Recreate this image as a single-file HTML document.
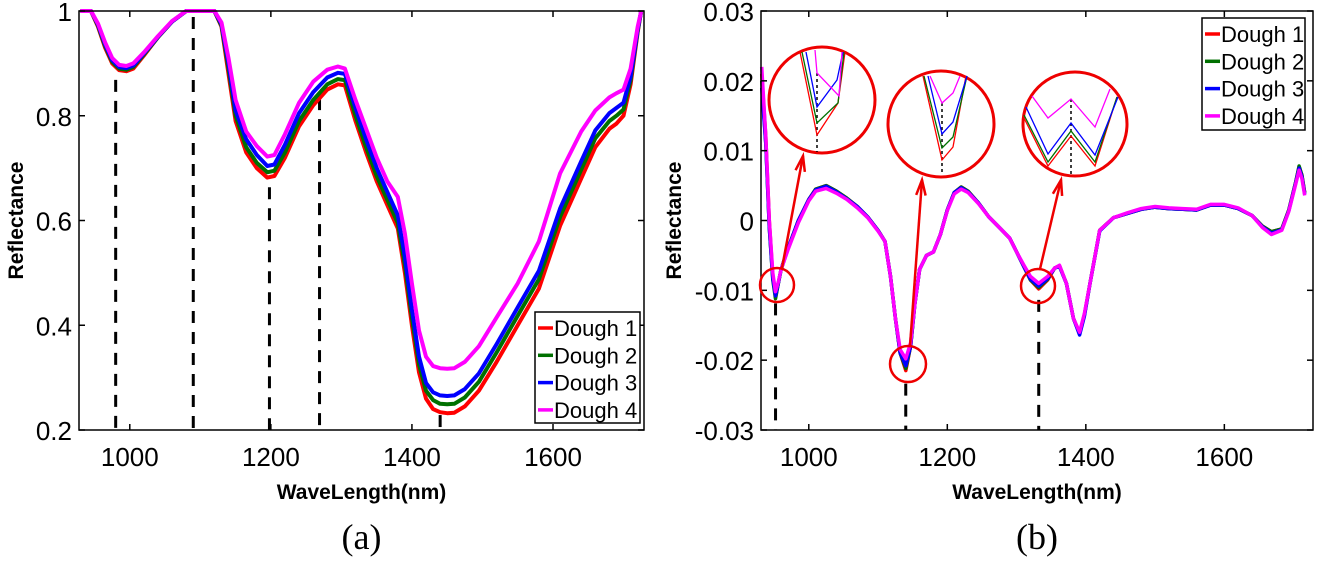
<!DOCTYPE html>
<html><head><meta charset="utf-8"><style>
html,body{margin:0;padding:0;background:#fff;}
svg{display:block;font-family:"Liberation Sans",Arial,sans-serif;}
</style></head><body>
<svg id="fig" width="1320" height="566" viewBox="0 0 1320 566" xmlns="http://www.w3.org/2000/svg">
<g id="chartA"></g>
<g id="chartB"></g>
<g id="insets"></g>
</svg>
<script>
// ---- Chart (a) data ----
const wlA = [930,945,955,965,975,985,995,1005,1020,1040,1060,1080,1095,1110,1120,1130,1140,1150,1165,1180,1195,1205,1220,1240,1260,1280,1295,1305,1320,1335,1350,1365,1380,1390,1400,1410,1420,1430,1440,1450,1460,1475,1495,1520,1550,1580,1610,1640,1660,1680,1690,1700,1710,1720,1725];
const dough1A = [1,1,0.97,0.93,0.9,0.887,0.885,0.89,0.915,0.95,0.98,1,1,1,1,0.97,0.88,0.79,0.73,0.70,0.682,0.685,0.72,0.78,0.82,0.85,0.86,0.858,0.79,0.73,0.675,0.63,0.585,0.5,0.4,0.31,0.26,0.24,0.234,0.232,0.233,0.245,0.275,0.33,0.40,0.47,0.59,0.68,0.74,0.775,0.785,0.8,0.86,0.96,1];
const dough2A = [1,1,0.972,0.933,0.903,0.89,0.888,0.893,0.917,0.95,0.98,1,1,1,1,0.972,0.89,0.8,0.74,0.71,0.692,0.695,0.73,0.79,0.83,0.86,0.87,0.868,0.8,0.74,0.685,0.64,0.595,0.515,0.415,0.325,0.275,0.257,0.25,0.249,0.25,0.262,0.292,0.348,0.418,0.488,0.607,0.697,0.757,0.79,0.8,0.812,0.868,0.962,1];
const dough3A = [1,1,0.974,0.936,0.906,0.893,0.891,0.896,0.919,0.951,0.98,1,1,1,1,0.975,0.9,0.81,0.755,0.725,0.704,0.707,0.745,0.805,0.845,0.873,0.882,0.88,0.815,0.755,0.7,0.655,0.61,0.53,0.43,0.34,0.29,0.272,0.266,0.265,0.266,0.278,0.308,0.364,0.434,0.504,0.623,0.713,0.772,0.805,0.815,0.825,0.875,0.965,1];
const dough4A = [1,1,0.976,0.94,0.91,0.897,0.895,0.9,0.921,0.952,0.981,1,1,1,1,0.978,0.91,0.83,0.77,0.742,0.722,0.725,0.765,0.825,0.865,0.888,0.894,0.89,0.83,0.775,0.72,0.675,0.645,0.575,0.48,0.39,0.34,0.322,0.318,0.317,0.318,0.33,0.36,0.415,0.48,0.56,0.69,0.77,0.81,0.835,0.843,0.85,0.89,0.97,1];
const xTicksA = [1000,1200,1400,1600];
const yTicksA = [0.2,0.4,0.6,0.8,1];
const yTickLabelsA = ["0.2","0.4","0.6","0.8","1"];
const dashA = [980,1090,1198,1269,1440];
const dashTopA = [0.88,1,0.675,0.845,0.24];

// ---- Chart (b) data ----
const wlB = [932,938,943,948,952,956,960,970,985,1000,1010,1025,1040,1055,1070,1085,1100,1110,1118,1125,1132,1140,1147,1153,1160,1170,1180,1190,1200,1210,1220,1230,1245,1260,1275,1290,1300,1310,1320,1332,1345,1355,1362,1372,1382,1391,1398,1406,1420,1440,1460,1480,1500,1520,1540,1560,1580,1600,1620,1640,1655,1668,1683,1693,1703,1708,1712,1716];
const dough1B = [0.021,0.012,0.0,-0.008,-0.011,-0.009,-0.007,-0.004,0.0,0.003,0.0045,0.005,0.0042,0.0032,0.002,0.0005,-0.0014,-0.003,-0.008,-0.014,-0.019,-0.0215,-0.018,-0.012,-0.007,-0.005,-0.0045,-0.002,0.0015,0.004,0.0048,0.0042,0.0025,0.0005,-0.001,-0.0025,-0.0045,-0.0065,-0.0085,-0.0098,-0.0085,-0.0068,-0.0065,-0.009,-0.014,-0.0162,-0.0135,-0.009,-0.0014,0.0004,0.001,0.0016,0.0019,0.0017,0.0016,0.0015,0.0022,0.0022,0.0017,0.0007,-0.0008,-0.0016,-0.0012,0.0015,0.0055,0.0077,0.0065,0.004];
const dough2B = [0.02,0.011,-0.001,-0.0085,-0.0112,-0.009,-0.007,-0.004,0.0,0.003,0.0045,0.005,0.0042,0.0032,0.002,0.0005,-0.0014,-0.003,-0.008,-0.014,-0.019,-0.0212,-0.018,-0.012,-0.007,-0.005,-0.0045,-0.002,0.0015,0.004,0.0048,0.0042,0.0025,0.0005,-0.001,-0.0025,-0.0045,-0.0065,-0.0085,-0.0096,-0.0084,-0.0068,-0.0065,-0.009,-0.014,-0.0162,-0.0135,-0.009,-0.0014,0.0004,0.001,0.0016,0.0019,0.0017,0.0016,0.0015,0.0022,0.0022,0.0017,0.0007,-0.0008,-0.0016,-0.0012,0.0015,0.0055,0.0078,0.0065,0.004];
const dough3B = [0.019,0.011,-0.001,-0.0083,-0.0108,-0.009,-0.007,-0.004,0.0,0.003,0.0044,0.0049,0.0041,0.0031,0.002,0.0005,-0.0014,-0.003,-0.008,-0.014,-0.019,-0.0208,-0.018,-0.012,-0.007,-0.005,-0.0045,-0.002,0.0015,0.004,0.0047,0.0041,0.0025,0.0005,-0.001,-0.0025,-0.0045,-0.0065,-0.0084,-0.0094,-0.0083,-0.0068,-0.0066,-0.009,-0.014,-0.0164,-0.0137,-0.009,-0.0015,0.0004,0.001,0.0016,0.0019,0.0017,0.0016,0.0015,0.0022,0.0022,0.0017,0.0007,-0.0009,-0.0018,-0.0013,0.0014,0.0054,0.0075,0.0063,0.0038];
const dough4B = [0.022,0.012,0.0,-0.0075,-0.0102,-0.0088,-0.007,-0.0042,-0.0003,0.0028,0.0042,0.0046,0.0039,0.003,0.0018,0.0004,-0.0015,-0.003,-0.008,-0.014,-0.0185,-0.0198,-0.0175,-0.012,-0.007,-0.005,-0.0045,-0.002,0.0014,0.0038,0.0045,0.004,0.0024,0.0005,-0.001,-0.0025,-0.0045,-0.0063,-0.008,-0.009,-0.008,-0.0068,-0.0064,-0.009,-0.014,-0.016,-0.0133,-0.009,-0.0014,0.0004,0.0011,0.0017,0.002,0.0018,0.0017,0.0016,0.0023,0.0023,0.0018,0.0007,-0.001,-0.002,-0.0014,0.0013,0.0052,0.0072,0.006,0.0036];
const xTicksB = [1000,1200,1400,1600];
const yTicksB = [-0.03,-0.02,-0.01,0,0.01,0.02,0.03];
const yTickLabelsB = ["-0.03","-0.02","-0.01","0","0.01","0.02","0.03"];
const dashB = [952,1140,1332];
const dashTopB = [-0.011,-0.0225,-0.0105];

const seriesNames = ["Dough 1","Dough 2","Dough 3","Dough 4"];
const colors = ["#ff0000","#007000","#0000ff","#ff00ff"];
const NS = "http://www.w3.org/2000/svg";

function mk(parent, tag, attrs, text){
  const e = document.createElementNS(NS, tag);
  for (const k in attrs) e.setAttribute(k, attrs[k]);
  if (text !== undefined) e.textContent = text;
  parent.appendChild(e);
  return e;
}

function drawChart(g, cfg){
  const {L,R,T,B,x0,x1,y0,y1} = cfg;
  const sx = v => L + (v - x0) / (x1 - x0) * (R - L);
  const sy = v => B - (v - y0) / (y1 - y0) * (B - T);
  // dashed markers
  cfg.dash.forEach((d,i)=>{
    const ln = mk(g,'line',{x1:sx(d),x2:sx(d),y1:sy(cfg.dashTop[i])+6,y2:B,stroke:'#000','stroke-width':3,'stroke-dasharray':'12,9'});
    
    
  });
  // series
  cfg.series.forEach((s,i)=>{
    const pts = cfg.wl.map((w,j)=>sx(w).toFixed(1)+','+sy(s[j]).toFixed(1)).join(' ');
    const pl = mk(g,'polyline',{points:pts,fill:'none',stroke:colors[i],'stroke-width':cfg.sw,'stroke-linejoin':'round'});
    
    
  });
  // frame
  const fr = mk(g,'rect',{x:L,y:T,width:R-L,height:B-T,fill:'none',stroke:'#000','stroke-width':1.5});
  
  
  // x ticks
  cfg.xTicks.forEach(t=>{
    const x = sx(t);
    mk(g,'line',{x1:x,x2:x,y1:B,y2:B-6,stroke:'#000','stroke-width':1.5});
    mk(g,'line',{x1:x,x2:x,y1:T,y2:T+6,stroke:'#000','stroke-width':1.5});
    const tl = mk(g,'text',{x:x,y:B+36,'text-anchor':'middle','font-size':26},String(t));
    
    
  });
  cfg.yTicks.forEach((t,i)=>{
    const y = sy(t);
    mk(g,'line',{x1:L,x2:L+6,y1:y,y2:y,stroke:'#000','stroke-width':1.5});
    mk(g,'line',{x1:R,x2:R-6,y1:y,y2:y,stroke:'#000','stroke-width':1.5});
    const tl = mk(g,'text',{x:L-7,y:y+10,'text-anchor':'end','font-size':26},cfg.yLabels[i]);
    
    
  });
  const xt = mk(g,'text',{x:(L+R)/2,y:499,'text-anchor':'middle','font-size':21,'font-weight':'bold'},'WaveLength(nm)');
  
  
  const yt = mk(g,'text',{x:0,y:0,'text-anchor':'middle','font-size':21,'font-weight':'bold',transform:`translate(${cfg.ytx},${(T+B)/2}) rotate(-90)`},'Reflectance');
  
  
  const cap = mk(g,'text',{x:(L+R)/2,y:549,'text-anchor':'middle','font-size':36,'font-family':'"Liberation Serif",serif'},cfg.caption);
  
  
  // legend
  const lg = mk(g,'g',{});
  
  
  mk(lg,'rect',{x:cfg.lx,y:cfg.ly,width:cfg.lw,height:cfg.lh,fill:'#fff',stroke:'#000','stroke-width':1.5});
  seriesNames.forEach((n,i)=>{
    const cy = cfg.ly + 16 + i*27.3;
    const e = mk(lg,'g',{});
    
    
    mk(e,'line',{x1:cfg.lx+3,x2:cfg.lx+18,y1:cy,y2:cy,stroke:colors[i],'stroke-width':3.5});
    mk(e,'text',{x:cfg.lx+19,y:cy+8,'font-size':22},n);
  });
}

drawChart(document.getElementById('chartA'),{
  L:79,R:644,T:11,B:430,x0:928,x1:1729,y0:0.2,y1:1,
  wl:wlA,series:[dough1A,dough2A,dough3A,dough4A],sw:4,
  xTicks:xTicksA,yTicks:yTicksA,yLabels:yTickLabelsA,
  dash:dashA,dashTop:dashTopA,ytx:23,caption:'(a)',
  lx:535,ly:312,lw:105,lh:111
});
drawChart(document.getElementById('chartB'),{
  L:761,R:1313,T:11,B:430,x0:931,x1:1728,y0:-0.03,y1:0.03,
  wl:wlB,series:[dough1B,dough2B,dough3B,dough4B],sw:3.5,
  xTicks:xTicksB,yTicks:yTicksB,yLabels:yTickLabelsB,
  dash:dashB,dashTop:dashTopB,ytx:681,caption:'(b)',
  lx:1202,ly:18,lw:103,lh:112
});

// ---- Insets (magnified views) ----
const ins = document.getElementById('insets');
const smallCircles = [[777,285,17],[908,364,18],[1038,286,17]];
const bigCircles = [[822,100,53],[941,124,53],[1075,124,52]];
const arrows = [[782,268,803,156],[910,346,922,180],[1040,269,1061,180]];
const insetLines = [
 [[[800,52],[817,135],[838,103],[845,52]],[[802,52],[817,123],[838,103],[844,52]],[[806,52],[817,107],[837,80],[843,52]],[[815,50],[817,73],[839,96],[842,52]]],
 [[[923,76],[942,160],[953,147],[966,76]],[[924,76],[942,148],[953,137],[967,76]],[[928,76],[942,134],[953,122],[967,76]],[[930,76],[942,103],[953,93],[960,76]]],
 [[[1024,118],[1048,166],[1071,136],[1095,166],[1117,97]],[[1024,115],[1048,162],[1071,131],[1095,162],[1117,97]],[[1026,107],[1048,154],[1071,123],[1095,155],[1118,97]],[[1032,96],[1048,118],[1071,99],[1095,127],[1110,89]]]
];
const insetDots = [[817,73,152],[942,103,175],[1071,99,175]];
smallCircles.forEach((c,i)=>{
  const sc = mk(ins,'circle',{cx:c[0],cy:c[1],r:c[2],fill:'none',stroke:'#e00','stroke-width':2.5});
  
  
  const a = arrows[i];
  const ar = mk(ins,'line',{x1:a[0],y1:a[1],x2:a[2],y2:a[3],stroke:'#e00','stroke-width':2.5});
  
  
  const ang = Math.atan2(a[3]-a[1],a[2]-a[0]);
  const hx = a[2], hy = a[3];
  const p1 = [hx-16*Math.cos(ang-0.3), hy-16*Math.sin(ang-0.3)];
  const p2 = [hx-16*Math.cos(ang+0.3), hy-16*Math.sin(ang+0.3)];
  mk(ins,'polyline',{points:`${p1} ${hx},${hy} ${p2}`,fill:'none',stroke:'#e00','stroke-width':2.5});
  const b = bigCircles[i];
  const bc = mk(ins,'circle',{cx:b[0],cy:b[1],r:b[2],fill:'#fff',stroke:'#e00','stroke-width':3});
  
  
  const d = insetDots[i];
  mk(ins,'line',{x1:d[0],x2:d[0],y1:d[1],y2:d[2],stroke:'#000','stroke-width':1.5,'stroke-dasharray':'3,3'});
  insetLines[i].forEach((ln,k)=>{
    mk(ins,'polyline',{points:ln.map(p=>p.join(',')).join(' '),fill:'none',stroke:colors[k],'stroke-width':1.3});
  });
});
</script>
</body></html>
